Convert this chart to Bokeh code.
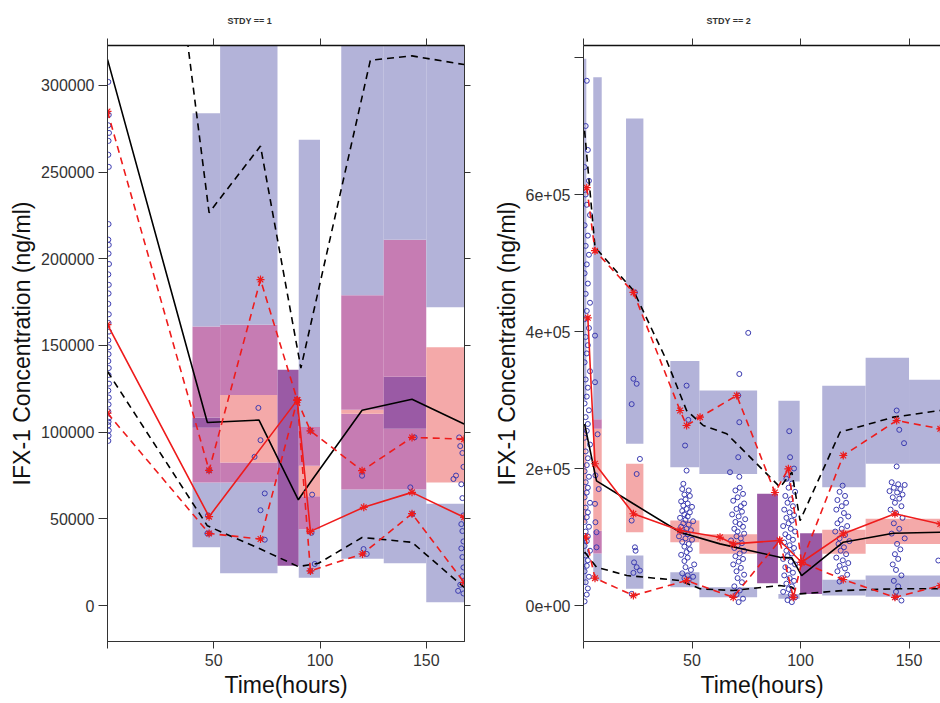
from bokeh.plotting import figure
from bokeh.layouts import row
from bokeh.models import Range1d, FixedTicker, LinearAxis, Title
from bokeh.embed import file_html
from bokeh.resources import INLINE

# ---------------- data ----------------
PANEL_TITLES = ["STDY == 1", "STDY == 2"]
X_LABEL = "Time(hours)"
Y_LABEL = "IFX-1 Concentration (ng/ml)"
X_TICKS = [0, 50, 100, 150]
X_TICK_LABELS = ["", "50", "100", "150"]
Y1_TICKS = [0, 50000, 100000, 150000, 200000, 250000, 300000]
Y1_TICK_LABELS = ["0", "50000", "100000", "150000", "200000", "250000", "300000"]
Y2_TICKS = [0, 200000, 400000, 600000, 800000]
Y2_TICK_LABELS = ["0e+00", "2e+05", "4e+05", "6e+05", ""]

# ---- panel 1 (STDY == 1): prediction-interval bins ----
p1_bin_x0 = [40, 53, 80, 90, 110, 130, 150]
p1_bin_x1 = [53, 80, 90, 100, 130, 150, 168]
p1_low_lo = [33600, 18600, 23000, 16000, 27000, 24400, 1900]
p1_low_hi = [108500, 82500, 136000, 63000, 110600, 132000, 58700]
p1_med_lo = [71000, 71000, 23000, 44000, 67000, 67000, 71000]
p1_med_hi = [161000, 162000, 136000, 103000, 179000, 211000, 149000]
p1_up_lo = [102500, 121500, 23000, 80600, 113000, 102000, 172000]
p1_up_hi = [284000, 345000, 136000, 268600, 345000, 345000, 345000]

# simulated percentiles (black)
p1_sim_med_x = [0, 47, 71.3, 89.8, 96, 119.8, 143.3, 167.8]
p1_sim_med_y = [315000, 105600, 107000, 61000, 72000, 112700, 119000, 104700]
p1_sim_lo_x = [0, 47, 72, 89.8, 99.3, 119.8, 143.3, 167.8]
p1_sim_lo_y = [135000, 46000, 32600, 22500, 24400, 39300, 36500, 10500]
p1_sim_hi_x = [0, 47.8, 72, 91, 123.7, 143.3, 167.8]
p1_sim_hi_y = [690000, 226600, 265000, 137000, 314500, 317000, 312000]

# observed percentiles (red)
p1_obs_med_x = [0, 47.8, 89.3, 95.5, 120.6, 143.3, 167.8]
p1_obs_med_y = [162000, 51300, 118500, 42800, 56700, 65300, 50900]
p1_obs_lo_x = [0, 47.8, 72, 89.3, 95.5, 120, 143.3, 167.8]
p1_obs_lo_y = [111000, 41600, 38400, 118500, 20000, 29800, 53000, 13400]
p1_obs_hi_x = [0, 47.8, 72, 89.3, 95.5, 119.8, 143.3, 167.8]
p1_obs_hi_y = [285000, 78000, 188000, 118500, 100800, 77800, 97000, 96000]

# observations
p1_obs_x = [0.4, 0.6, 0.4, 0.7, 0.5, 0.4, 0.6, 0.5, 0.4, 0.6, 0.5, 0.7, 0.4, 0.6, 0.5,
            0.4, 0.6, 0.5, 0.7, 0.4, 0.6, 0.5, 0.4, 0.6, 0.5, 0.7, 0.4, 0.6, 0.5, 0.4,
            0.6, 0.5, 0.4, 0.6, 0.5, 0.4,
            47, 48, 47.3, 47.8,
            71, 72, 69.2, 74, 72, 74,
            89.3,
            95.5, 96.3, 96, 95.5, 97.5,
            119.8, 120.5, 122,
            142.5, 143.5, 144.5,
            162.8, 164, 165.5, 166, 167, 167.5, 166.5, 167, 167.5, 166.5, 167, 167.5,
            166.5, 167, 167.5, 167, 166, 165, 167.5]
p1_obs_y = [302000, 283000, 277000, 272600, 268000, 260000, 253000, 220000, 211000, 208000,
            203000, 197000, 191000, 185000, 180000, 174000, 168000, 163000, 158000, 153000,
            149000, 145000, 141000, 137000, 133000, 128000, 124000, 120000, 116000, 112000,
            108000, 106000, 104000, 101000, 98000, 95000,
            41600, 41600, 52000, 78000,
            114000, 95400, 85800, 64700, 55000, 38000,
            118500,
            100800, 64000, 42000, 20000, 24000,
            74900, 32600, 29800,
            68200, 52800, 97000,
            73000, 75000, 97000, 92000, 88000, 80000, 70000, 62000, 52000, 47000, 43000, 37000,
            33000, 28000, 22000, 17000, 12000, 8500, 7000]

# ---- panel 2 (STDY == 2) ----
p2_bin_x0 = [0, 4.5, 19.6, 40, 53.4, 80, 89.8, 99.8, 110, 130, 150]
p2_bin_x1 = [1.3, 8.4, 27.6, 53.4, 80, 89.6, 99.6, 110, 130, 150, 170]
p2_low_lo = [30000, 36500, 24400, 26700, 12000, 32600, 10000, 17000, 14600, 13000, 13000]
p2_low_hi = [100000, 109000, 73000, 48700, 26700, 163000, 17000, 105600, 37500, 43800, 43800]
p2_med_lo = [120000, 76000, 107000, 92400, 75500, 32600, None, 17000, 75500, 90000, 90000]
p2_med_hi = [260000, 272000, 207000, 124000, 104000, 163000, None, 105600, 110500, 126600, 126600]
p2_up_lo = [300000, 258000, 236000, 202000, 192000, 32600, 181000, 17000, 172700, 207000, 207000]
p2_up_hi = [798000, 771000, 711000, 357000, 314000, 163000, 299000, 105600, 321000, 361600, 329500]

p2_sim_med_x = [0.5, 6, 23, 44.5, 62.9, 90.4, 96, 100.5, 119.7, 142.8, 164.4]
p2_sim_med_y = [265000, 182000, 148500, 107000, 90000, 70500, 69600, 43800, 92400, 105600, 107000]
p2_sim_lo_x = [0.5, 6, 20, 44.5, 53.7, 69, 90.4, 96, 99.8, 119.7, 142.8, 164.4]
p2_sim_lo_y = [78000, 56000, 43800, 36500, 24400, 21900, 29200, 27000, 17000, 21900, 24400, 24400]
p2_sim_hi_x = [0.5, 5.3, 23, 38.3, 47.5, 55.2, 66, 90.6, 96, 99.8, 118.2, 142.8, 164.4]
p2_sim_hi_y = [693000, 523000, 460000, 357700, 284700, 262800, 250700, 172700, 194600, 124000,
               253000, 275000, 284700]

p2_obs_med_x = [2, 5.3, 23, 44.5, 62.9, 69, 90.4, 100.5, 119.7, 143.5, 164.4]
p2_obs_med_y = [420000, 207000, 134000, 109500, 99700, 90000, 94900, 63200, 104700, 134000, 119000]
p2_obs_lo_x = [1, 5.3, 23, 47.5, 69, 90.4, 96.7, 100.5, 119.7, 143.5, 164.4]
p2_obs_lo_y = [100000, 40000, 14600, 36500, 12000, 95000, 12000, 63000, 38000, 12000, 29000]
p2_obs_hi_x = [1.5, 5.3, 23, 44.5, 47.5, 53.7, 70.6, 88.2, 94.4, 100.5, 119.7, 144.3, 164.4]
p2_obs_hi_y = [610000, 518000, 457000, 284700, 262800, 275000, 306600, 165000, 199600, 63000,
               219000, 270000, 258000]

p2_obs_x = [1.5, 1, 2, 0.5, 2.5, 1, 1.5, 3, 0.5, 2, 1, 2.5, 1.5, 0.5, 2, 1, 3, 1.5, 0.5, 2.5,
            1, 2, 1.5, 0.5, 3, 1, 2, 1.5, 0.5, 2.5, 1, 2, 1.5, 0.5, 3, 1, 2, 1.5, 0.5, 2.5,
            1, 2, 1.5, 0.5, 3, 1, 2, 1.5, 0.5, 2.5, 1, 2, 1.5, 0.5, 3, 1, 2, 1.5, 0.5, 2.5,
            1, 2, 1.5, 0.5,
            5.3, 5.3, 5.5, 5.3, 5.5, 6, 6.5, 7, 6,
            23.7, 23, 24.5, 22.2, 26, 24.5, 22.2, 23.7, 24, 23.3, 24.5, 26, 23, 22.2,
            47.5, 48.3, 46.8, 47.5, 46, 45.5, 48.5, 46.5, 49, 47, 45, 48, 46, 50, 47.5, 45.5,
            49, 46.5, 48, 44.5, 47, 50.5, 46, 48.5, 45, 47.5, 49.5, 46.5, 48, 44, 47, 50, 45.5,
            48.5, 46.5, 49, 47.5, 45, 48, 46.5, 51, 47, 49.5, 45.5, 48, 50.5, 46.5, 48.5,
            75.9, 71.8, 71.3, 71.8, 71.3, 71.8, 67.5, 72, 70, 73.5, 71, 69, 74, 72.5, 70.5, 73,
            68.5, 71.5, 74.5, 70, 72, 73.5, 69.5, 71, 74, 70.5, 72.5, 68, 73, 71, 69.5, 74, 72,
            70, 73.5, 71.5, 69, 72.5, 70.5, 74, 71, 73, 69.5, 72, 70.5, 73.5, 71.5,
            94.8, 95.2, 97, 93.5, 96, 94.5, 97.5, 93, 95.5, 94, 96.5, 92.5, 95, 97, 93.5, 96,
            94.5, 92, 95.5, 97.5, 93, 94.5, 96.5, 92.5, 95, 97, 93.5, 96, 94, 92, 95.5, 97.5,
            93, 94.5, 96.5, 92.5, 95, 97, 93.5, 96, 94.5, 92, 95.5, 97.5, 94, 96,
            119.4, 118, 120.5, 117, 121, 119, 116.5, 120, 122, 118.5, 117, 121.5, 119, 116,
            120.5, 118, 122.5, 117.5, 120, 118.5, 121, 116.5, 119.5, 122, 118, 120.5, 117,
            121.5, 119, 118,
            144.3, 145.5, 147.7, 144.3, 142, 145, 148, 143, 146, 141, 144.5, 147, 142.5, 145.5,
            143.5, 146.5, 141.5, 144, 147, 143, 145.5, 142, 148, 144.5, 146, 143.5, 145, 142.5,
            144, 146.5, 143, 145, 144, 143.8, 146.5,
            163.5]
p2_obs_y = [766000, 700000, 665000, 640000, 620000, 600000, 585000, 570000, 555000, 540000,
            525000, 512000, 498000, 485000, 470000, 455000, 442000, 430000, 418000, 405000,
            392000, 380000, 368000, 355000, 342000, 330000, 318000, 305000, 295000, 285000,
            275000, 265000, 255000, 245000, 235000, 225000, 215000, 205000, 196000, 188000,
            180000, 172000, 165000, 158000, 150000, 143000, 136000, 129000, 122000, 115000,
            108000, 101000, 94000, 87000, 80000, 73000, 66000, 58000, 50000, 42000,
            34000, 25000, 16000, 6000,
            394000, 326000, 190000, 148500, 121600, 107000, 250000, 170000, 85000,
            457000, 331000, 323700, 294000, 214000, 192000, 124000, 85000, 80000, 63000, 56000,
            51000, 47700, 17000,
            321000, 271000, 233600, 197000, 177700, 170000, 168000, 162000, 160000, 155000,
            152000, 149000, 146000, 144000, 141000, 138000, 136000, 133000, 130000, 128000,
            125000, 123000, 120000, 118000, 115000, 112000, 110000, 107000, 104000, 101000,
            98000, 96000, 93000, 90000, 86000, 82000, 78000, 74000, 70000, 65000, 60000, 56000,
            52000, 47000, 44000, 42000, 40000, 38000,
            398000, 338000, 306600, 267600, 216500, 188000, 194600, 172000, 168000, 163000,
            158000, 153000, 149000, 145000, 141000, 137000, 133000, 130000, 126000, 122000,
            119000, 115000, 112000, 108000, 105000, 101000, 98000, 95000, 91000, 88000, 84000,
            80000, 76000, 72000, 68000, 64000, 60000, 55000, 50000, 45000, 40000, 34000, 28000,
            22000, 16000, 10000, 5000,
            254500, 216500, 200000, 185000, 178000, 172000, 166000, 160000, 155000, 150000,
            145000, 140000, 136000, 132000, 128000, 124000, 120000, 116000, 112000, 108000,
            104000, 100000, 96000, 92000, 88000, 84000, 80000, 76000, 72000, 68000, 64000,
            60000, 56000, 52000, 48000, 44000, 40000, 36000, 32000, 28000, 24000, 20000, 16000,
            12000, 8000, 5000,
            175000, 166000, 160000, 154000, 150000, 145000, 140000, 135000, 130000, 125000,
            120000, 116000, 112000, 108000, 103000, 98000, 94000, 90000, 85000, 80000, 75000,
            70000, 66000, 62000, 58000, 54000, 50000, 45000, 40000, 35000,
            284700, 256500, 237000, 203000, 180000, 177000, 176000, 172000, 170000, 167000,
            165000, 162000, 158000, 156000, 150000, 145000, 140000, 135000, 128000, 120000,
            112000, 105000, 98000, 90000, 82000, 75000, 68000, 60000, 52000, 44000, 36000,
            28000, 20000, 12000, 7300,
            65700]

# ---------------- style ----------------
FONT = "Liberation Sans"
BAND_COLORS = {(1, 0): "#b3b3d9", (0, 1): "#f4a9a9", (1, 1): "#c67cb3",
               (2, 1): "#9a5aa5", (2, 0): "#8e8ec6"}
PT_COLOR = "#3b3bb0"
H = 703


def add_bands(p, x0, x1, lo_lo, lo_hi, md_lo, md_hi, up_lo, up_hi):
    L, R, B, T, C = [], [], [], [], []
    for i in range(len(x0)):
        blues = [(lo_lo[i], lo_hi[i]), (up_lo[i], up_hi[i])]
        pinks = [] if md_lo[i] is None else [(md_lo[i], md_hi[i])]
        edges = sorted(set(v for iv in blues + pinks for v in iv))
        for a, b in zip(edges[:-1], edges[1:]):
            m = 0.5 * (a + b)
            nb = sum(1 for lo, hi in blues if lo <= m <= hi)
            npk = sum(1 for lo, hi in pinks if lo <= m <= hi)
            col = BAND_COLORS.get((nb, npk))
            if col is None:
                continue
            L.append(x0[i]); R.append(x1[i]); B.append(a); T.append(b); C.append(col)
    p.quad(left=L, right=R, bottom=B, top=T, fill_color=C, line_color=None)


def style_axis(ax, ticks, labels, show_labels=True):
    ax.ticker = FixedTicker(ticks=ticks)
    ax.major_label_overrides = {float(t): (lab if show_labels else "") for t, lab in zip(ticks, labels)}
    ax.major_tick_in = 0
    ax.minor_tick_line_color = None
    ax.axis_line_color = "#333333"
    ax.major_tick_line_color = "#333333"
    ax.major_label_text_font = FONT
    ax.major_label_text_font_size = "16px" if show_labels else "0px"
    ax.major_label_text_color = "#333333"
    ax.axis_label_text_font = FONT
    ax.axis_label_text_font_size = "23px"
    ax.axis_label_text_font_style = "normal"
    ax.axis_label_text_color = "#111111"


def make_panel(width, mbl, mbr, x_end, y0, y1, yticks, ylabels, right_axis, outline,
               title, title_offset):
    p = figure(width=width, height=H, x_range=Range1d(0, x_end), y_range=Range1d(y0, y1),
               output_backend="svg", toolbar_location=None,
               min_border_left=mbl, min_border_right=mbr, min_border_top=44, min_border_bottom=62)
    p.grid.visible = False
    p.outline_line_color = "#222222" if outline else None
    p.background_fill_color = "white"
    p.border_fill_color = "white"

    xa = p.xaxis[0]
    style_axis(xa, X_TICKS, X_TICK_LABELS)
    xa.major_tick_out = 7
    xa.major_label_standoff = 5
    xa.axis_label = X_LABEL
    xa.axis_label_standoff = 3

    ya = p.yaxis[0]
    style_axis(ya, yticks, ylabels)
    ya.major_tick_out = 9
    ya.major_label_standoff = 4
    ya.axis_label = Y_LABEL
    ya.axis_label_standoff = 3

    top = LinearAxis()
    style_axis(top, X_TICKS, X_TICK_LABELS, show_labels=False)
    top.major_tick_out = 7
    top.major_label_standoff = 0
    top.axis_line_color = "#111111"
    top.axis_line_width = 1.5
    p.add_layout(top, "above")
    if right_axis:
        ra = LinearAxis()
        style_axis(ra, yticks, ylabels, show_labels=False)
        ra.major_tick_out = 6
        ra.major_label_standoff = 0
        p.add_layout(ra, "right")

    p.add_layout(Title(text=title, align="left", offset=title_offset, standoff=26,
                       text_font=FONT, text_font_size="9px", text_font_style="bold",
                       text_color="#333333"), "above")
    return p


def draw_content(p, bands, obs_x, obs_y, sim, obs):
    add_bands(p, *bands)
    p.scatter(obs_x, obs_y, marker="circle", size=5, fill_color=None,
              line_color=PT_COLOR, line_width=1)
    (smx, smy), (slx, sly), (shx, shy) = sim
    p.line(smx, smy, line_color="black", line_width=1.6)
    p.line(slx, sly, line_color="black", line_width=1.6, line_dash="7 5")
    p.line(shx, shy, line_color="black", line_width=1.6, line_dash="7 5")
    (omx, omy), (olx, oly), (ohx, ohy) = obs
    p.line(omx, omy, line_color="#ee1c1c", line_width=1.6)
    p.line(olx, oly, line_color="#ee1c1c", line_width=1.6, line_dash="7 5")
    p.line(ohx, ohy, line_color="#ee1c1c", line_width=1.6, line_dash="7 5")
    for xs, ys in obs:
        p.scatter(xs, ys, marker="asterisk", size=8, line_color="#ee1c1c", line_width=1.2)


# ---------------- panel 1 ----------------
p1 = make_panel(475, 107, 11, 168, -20700, 323000, Y1_TICKS, Y1_TICK_LABELS, True, True,
                PANEL_TITLES[0], 120)
draw_content(p1,
             (p1_bin_x0, p1_bin_x1, p1_low_lo, p1_low_hi, p1_med_lo, p1_med_hi, p1_up_lo, p1_up_hi),
             p1_obs_x, p1_obs_y,
             ((p1_sim_med_x, p1_sim_med_y), (p1_sim_lo_x, p1_sim_lo_y), (p1_sim_hi_x, p1_sim_hi_y)),
             ((p1_obs_med_x, p1_obs_med_y), (p1_obs_lo_x, p1_obs_lo_y), (p1_obs_hi_x, p1_obs_hi_y)))

# ---------------- panel 2 ----------------
p2 = make_panel(465, 108, 0, 164.5, -52500, 817500, Y2_TICKS, Y2_TICK_LABELS, False, False,
                PANEL_TITLES[1], 123)
draw_content(p2,
             (p2_bin_x0, p2_bin_x1, p2_low_lo, p2_low_hi, p2_med_lo, p2_med_hi, p2_up_lo, p2_up_hi),
             p2_obs_x, p2_obs_y,
             ((p2_sim_med_x, p2_sim_med_y), (p2_sim_lo_x, p2_sim_lo_y), (p2_sim_hi_x, p2_sim_hi_y)),
             ((p2_obs_med_x, p2_obs_med_y), (p2_obs_lo_x, p2_obs_lo_y), (p2_obs_hi_x, p2_obs_hi_y)))

layout = row(p1, p2)
open("out.html", "w").write(file_html(layout, INLINE))
